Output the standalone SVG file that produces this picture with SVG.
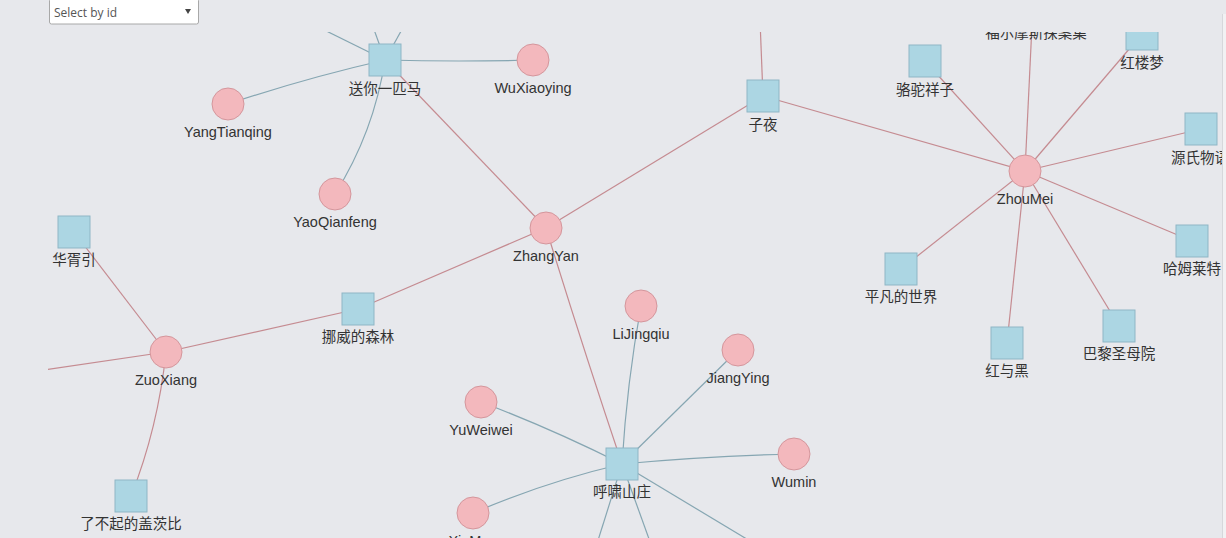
<svg xmlns="http://www.w3.org/2000/svg" width="1226" height="538" viewBox="0 0 1226 538">
<defs>
<clipPath id="area"><rect x="48" y="32" width="1174" height="506"/></clipPath>
<style>
.lb{stroke:#86a6b2;stroke-width:1.2;fill:none}
.lr{stroke:#c58b91;stroke-width:1.2;fill:none}
.sq{fill:#acd6e3;stroke:#8fb6c5;stroke-width:1}
.ci{fill:#f3b8bd;stroke:#d4969c;stroke-width:1}
.t{font-family:"Liberation Sans","Noto Sans CJK SC",sans-serif;font-size:14.5px;fill:#333;text-anchor:middle}
</style>
</defs>
<rect width="1226" height="538" fill="#e7e8ec"/>
<rect x="1223" y="14" width="3" height="524" fill="#f1f1f3"/>
<line x1="1222.5" y1="14" x2="1222.5" y2="538" stroke="#d6d7db"/>
<g clip-path="url(#area)">
<g id="connectors">
<path class="lb" d="M385,60 Q459,62 533,60"/>
<path class="lb" d="M385,60 Q306,78 228,104"/>
<path class="lb" d="M385,60 Q374,132 335,194"/>
<path class="lb" d="M385,60 L300,18"/>
<path class="lb" d="M385,60 L372,24"/>
<path class="lb" d="M385,60 L405,24"/>
<path class="lb" d="M622,464 Q627,382 641,306"/>
<path class="lb" d="M622,464 L738,350"/>
<path class="lb" d="M622,464 Q550,428 481,402"/>
<path class="lb" d="M622,464 Q708,456 794,454"/>
<path class="lb" d="M622,464 Q545,482 473,513"/>
<path class="lb" d="M622,464 L595,550"/>
<path class="lb" d="M622,464 L653,550"/>
<path class="lb" d="M622,464 L760,547"/>
<path class="lr" d="M546,228 L385,60"/>
<path class="lr" d="M546,228 L763,96"/>
<path class="lr" d="M546,228 Q582,345 622,464"/>
<path class="lr" d="M546,228 L358,309"/>
<path class="lr" d="M358,309 L166,352"/>
<path class="lr" d="M166,352 L74,232"/>
<path class="lr" d="M166,352 Q158,428 131,496"/>
<path class="lr" d="M166,352 L30,372"/>
<path class="lr" d="M763,96 L760,20"/>
<path class="lr" d="M1025,171 L763,96"/>
<path class="lr" d="M1025,171 L925,61"/>
<path class="lr" d="M1025,171 L1033,4"/>
<path class="lr" d="M1025,171 L1142,34"/>
<path class="lr" d="M1025,171 L1201,129"/>
<path class="lr" d="M1025,171 L1192,241"/>
<path class="lr" d="M1025,171 L1119,326"/>
<path class="lr" d="M1025,171 L1007,343"/>
<path class="lr" d="M1025,171 L901,269"/>
</g>
<g id="n-songni"><rect class="sq" x="369" y="44" width="32" height="32"/><text class="t" x="385" y="94">送你一匹马</text></g>
<g id="n-wuxiaoying"><circle class="ci" cx="533" cy="60" r="16"/><text class="t" x="533" y="93">WuXiaoying</text></g>
<g id="n-yangtianqing"><circle class="ci" cx="228" cy="104" r="16"/><text class="t" x="228" y="137">YangTianqing</text></g>
<g id="n-yaoqianfeng"><circle class="ci" cx="335" cy="194" r="16"/><text class="t" x="335" y="227">YaoQianfeng</text></g>
<g id="n-zhangyan"><circle class="ci" cx="546" cy="228" r="16"/><text class="t" x="546" y="261">ZhangYan</text></g>
<g id="n-ziye"><rect class="sq" x="747" y="80" width="32" height="32"/><text class="t" x="763" y="130">子夜</text></g>
<g id="n-zhoumei"><circle class="ci" cx="1025" cy="171" r="16"/><text class="t" x="1025" y="204">ZhouMei</text></g>
<g id="n-luotuo"><rect class="sq" x="909" y="45" width="32" height="32"/><text class="t" x="925" y="95">骆驼祥子</text></g>
<g id="n-fuermosi"><rect class="sq" x="1018" y="-12" width="32" height="32"/><text class="t" x="1036" y="38">福尔摩斯探案集</text></g>
<g id="n-honglou"><rect class="sq" x="1126" y="18" width="32" height="32"/><text class="t" x="1142" y="68">红楼梦</text></g>
<g id="n-yuanshi"><rect class="sq" x="1185" y="113" width="32" height="32"/><text class="t" x="1200" y="163">源氏物语</text></g>
<g id="n-hamlet"><rect class="sq" x="1176" y="225" width="32" height="32"/><text class="t" x="1192" y="274">哈姆莱特</text></g>
<g id="n-bali"><rect class="sq" x="1103" y="310" width="32" height="32"/><text class="t" x="1119" y="359">巴黎圣母院</text></g>
<g id="n-hongyuhei"><rect class="sq" x="991" y="327" width="32" height="32"/><text class="t" x="1007" y="376">红与黑</text></g>
<g id="n-pingfan"><rect class="sq" x="885" y="253" width="32" height="32"/><text class="t" x="901" y="302">平凡的世界</text></g>
<g id="n-huaxu"><rect class="sq" x="58" y="216" width="32" height="32"/><text class="t" x="74" y="265">华胥引</text></g>
<g id="n-nuowei"><rect class="sq" x="342" y="293" width="32" height="32"/><text class="t" x="358" y="342">挪威的森林</text></g>
<g id="n-zuoxiang"><circle class="ci" cx="166" cy="352" r="16"/><text class="t" x="166" y="385">ZuoXiang</text></g>
<g id="n-gatsby"><rect class="sq" x="115" y="480" width="32" height="32"/><text class="t" x="131" y="529">了不起的盖茨比</text></g>
<g id="n-lijingqiu"><circle class="ci" cx="641" cy="306" r="16"/><text class="t" x="641" y="339">LiJingqiu</text></g>
<g id="n-jiangying"><circle class="ci" cx="738" cy="350" r="16"/><text class="t" x="738" y="383">JiangYing</text></g>
<g id="n-yuweiwei"><circle class="ci" cx="481" cy="402" r="16"/><text class="t" x="481" y="435">YuWeiwei</text></g>
<g id="n-huxiao"><rect class="sq" x="606" y="448" width="32" height="32"/><text class="t" x="622" y="497">呼啸山庄</text></g>
<g id="n-wumin"><circle class="ci" cx="794" cy="454" r="16"/><text class="t" x="794" y="487">Wumin</text></g>
<g id="n-xiaman"><circle class="ci" cx="473" cy="513" r="16"/><text class="t" x="473" y="546">XiaMan</text></g>
</g>
<g id="select">
<rect x="49.5" y="-1.5" width="149" height="25.5" rx="2" fill="#ffffff" stroke="#a8a8a8"/>
<text x="54" y="17" font-family="'Open Sans','Liberation Sans',sans-serif" font-size="12" fill="#555">Select by id</text>
<polygon points="185,9 191,9 188,14" fill="#444"/>
</g>
</svg>
